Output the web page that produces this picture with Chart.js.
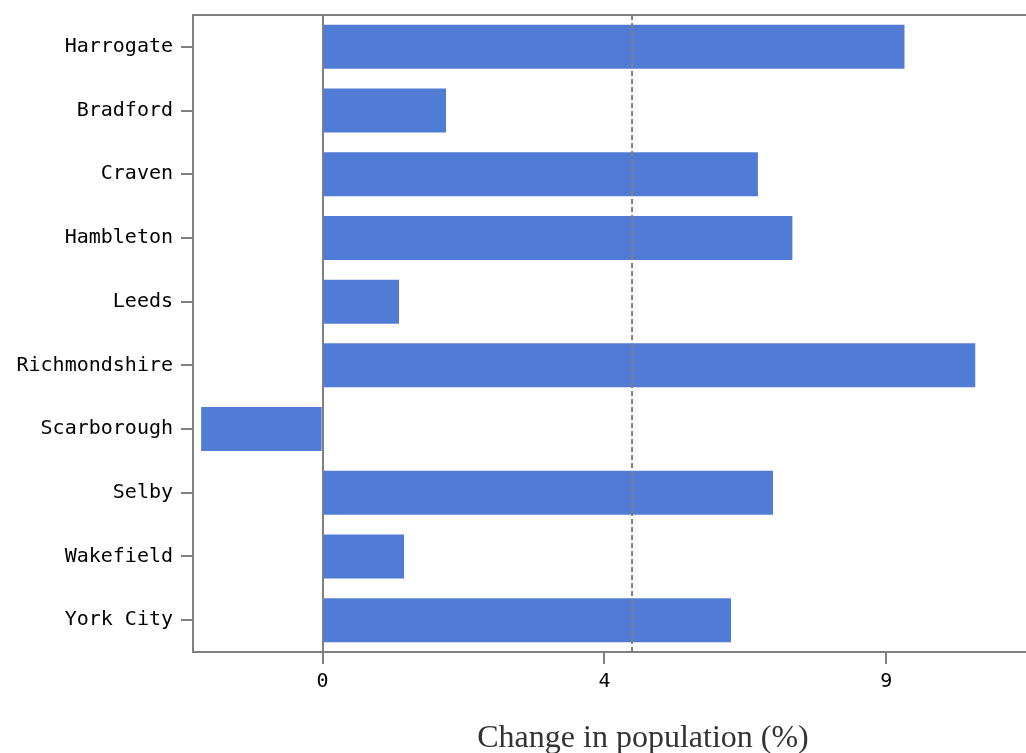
<!DOCTYPE html>
<html>
<head>
<meta charset="utf-8">
<script src="https://cdn.jsdelivr.net/npm/chart.js@4"></script>
<style>
    html, body { margin: 0; padding: 0; background: #fff; overflow: hidden; }
    #chartBox { width: 1100px; height: 770px; }
</style>
</head>
<body>
<div id="chartBox"><canvas id="popChart" width="1100" height="770"></canvas></div>
<script>
// Données
const districts = ['Harrogate', 'Bradford', 'Craven', 'Hambleton', 'Leeds', 'Richmondshire', 'Scarborough', 'Selby', 'Wakefield', 'York City'];
const popChange = [9.29, 1.97, 6.95, 7.50, 1.22, 10.42, -1.94, 7.19, 1.30, 6.52];
const tickValues = [0, 4.5, 9];
const tickLabels = ['0', '4', '9'];
const refValue = 4.94;

const GREY = '#808080';
const BLUE = '#507CD6';

// Cadre + ligne pointillée
const framePlugin = {
    id: 'frame',
    afterDatasetsDraw(chart) {
        const { ctx, chartArea: a, scales } = chart;
        ctx.save();
        const x = scales.x.getPixelForValue(refValue);
        ctx.strokeStyle = GREY;
        ctx.lineWidth = 2;
        ctx.setLineDash([5, 3]);
        ctx.beginPath();
        ctx.moveTo(x, a.top);
        ctx.lineTo(x, a.bottom);
        ctx.stroke();
        ctx.setLineDash([]);
        ctx.strokeRect(a.left, a.top, a.right - a.left, a.bottom - a.top);
        ctx.restore();
    }
};

new Chart(document.getElementById('popChart'), {
    type: 'bar',
    data: {
        labels: districts,
        datasets: [{
            data: popChange,
            backgroundColor: BLUE,
            borderWidth: 0,
            barPercentage: 0.69,
            categoryPercentage: 1
        }]
    },
    options: {
        indexAxis: 'y',
        responsive: false,
        devicePixelRatio: 1,
        animation: false,
        layout: { padding: { top: 15, left: 0, right: 7, bottom: 0 } },
        plugins: {
            legend: { display: false },
            tooltip: { enabled: false }
        },
        scales: {
            x: {
                min: -2.07,
                max: 12.3,
                afterBuildTicks: (scale) => { scale.ticks = tickValues.map(v => ({ value: v })); },
                afterFit: (scale) => { scale.height = 118; },
                border: { display: false },
                grid: {
                    color: (c) => (c.tick && c.tick.value === 0 ? GREY : 'transparent'),
                    tickColor: GREY,
                    lineWidth: 2,
                    tickLength: 12
                },
                ticks: {
                    padding: 6,
                    color: '#000',
                    font: { family: 'DejaVu Sans Mono', size: 20 },
                    callback: (v, i) => tickLabels[i]
                },
                title: {
                    display: true,
                    text: 'Change in population (%)',
                    color: '#333',
                    font: { family: 'Liberation Serif', size: 32 },
                    padding: { top: 12, bottom: 12 }
                }
            },
            y: {
                afterFit: (scale) => {
                    scale.width = 193;
                    scale.paddingTop = 0;
                    scale.paddingBottom = 0;
                },
                border: { display: false },
                grid: {
                    offset: false,
                    drawOnChartArea: false,
                    tickColor: GREY,
                    lineWidth: 2,
                    tickLength: 12
                },
                ticks: {
                    padding: 8,
                    color: '#000',
                    font: { family: 'DejaVu Sans Mono', size: 20 }
                }
            }
        }
    },
    plugins: [framePlugin]
});
</script>
</body>
</html>
